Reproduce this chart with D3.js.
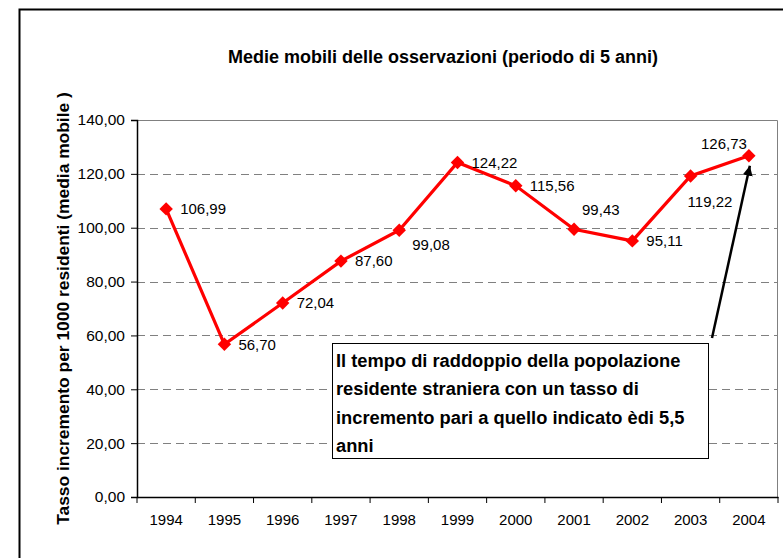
<!DOCTYPE html>
<html>
<head>
<meta charset="utf-8">
<script src="https://cdn.jsdelivr.net/npm/d3@7/dist/d3.min.js"></script>
<style>
  body { margin: 0; background: #fff; }
  svg text { font-family: "Liberation Sans", Arial, sans-serif; }
</style>
</head>
<body>
<div id="chart"></div>
<script>
// moving averages, 5 year period
const years = ["1994", "1995", "1996", "1997", "1998", "1999", "2000", "2001", "2002", "2003", "2004"];
const values = [106.99, 56.70, 72.04, 87.60, 99.08, 124.22, 115.56, 99.43, 95.11, 119.22, 126.73];
const yTicks = [0, 20, 40, 60, 80, 100, 120, 140];
const noteLines = [
  "Il tempo di raddoppio della popolazione",
  "residente straniera con un tasso di",
  "incremento pari a quello indicato èdi 5,5",
  "anni"
];
// where each data label sits relative to its point (as dragged in the original)
const labelPos = ["right", "right", "right", "right", "belowright", "right", "right", "aboveright", "right", "below", "aboveleft"];

const width = 783, height = 558;
const margin = {top: 120, left: 137, right: 5, bottom: 61};

const svg = d3.select("#chart").append("svg")
    .attr("width", width)
    .attr("height", height);

// chart area border (runs off the right and bottom edges)
svg.append("rect")
    .attr("x", 19.5).attr("y", 9.5)
    .attr("width", 800).attr("height", 600)
    .attr("fill", "#fff")
    .attr("stroke", "#000")
    .attr("stroke-width", 2);

const x = d3.scaleBand()
    .domain(years)
    .range([margin.left, width - margin.right])
    .padding(0);

const y = d3.scaleLinear()
    .domain([0, 140])
    .range([height - margin.bottom, margin.top]);

const fmt = d => d.toFixed(2).replace(".", ",");

// gridlines
svg.append("g")
  .selectAll("line")
  .data(yTicks.filter(d => d > 0 && d < 140))
  .enter().append("line")
    .attr("x1", margin.left).attr("x2", width - margin.right)
    .attr("y1", d => Math.round(y(d)) + 0.5).attr("y2", d => Math.round(y(d)) + 0.5)
    .attr("stroke", "#808080")
    .attr("stroke-dasharray", "8,5");

// plot area frame (top & right)
svg.append("path")
    .attr("d", "M" + margin.left + "," + (y(140) + 0.5) + "H" + (width - margin.right - 0.5) + "V" + y(0))
    .attr("fill", "none")
    .attr("stroke", "#808080")
    .attr("stroke-width", 1);

// y axis
const yAxis = svg.append("g")
    .attr("transform", "translate(" + margin.left + ",0)")
    .call(d3.axisLeft(y).tickValues(yTicks).tickFormat(fmt).tickSize(6).tickPadding(6));
yAxis.selectAll("text").style("font-size", "15.5px").attr("fill", "#000");
yAxis.select(".domain").attr("stroke", "#000").attr("stroke-width", 1.5);

// x axis: labels centred in bands, ticks on band edges
const xAxis = svg.append("g")
    .attr("transform", "translate(0," + y(0) + ")")
    .call(d3.axisBottom(x).tickSize(0).tickPadding(17));
xAxis.selectAll("text").style("font-size", "15px").attr("fill", "#000");
xAxis.select(".domain").attr("stroke", "#000").attr("stroke-width", 1.5);
xAxis.selectAll(".xedge")
    .data(years.map(d => x(d)).concat([x(years[years.length - 1]) + x.bandwidth()]))
    .enter().append("line")
    .attr("class", "xedge")
    .attr("x1", d => d).attr("x2", d => d)
    .attr("y1", 0).attr("y2", 6)
    .attr("stroke", "#000");

// the line
const cx = d => x(d) + x.bandwidth() / 2;
const line = d3.line()
    .x((d, i) => cx(years[i]))
    .y(d => y(d));

svg.append("path")
    .datum(values)
    .attr("d", line)
    .attr("fill", "none")
    .attr("stroke", "#ff0000")
    .attr("stroke-width", 3.2);

svg.append("g")
  .selectAll("path")
  .data(values)
  .enter().append("path")
    .attr("transform", (d, i) => "translate(" + cx(years[i]) + "," + y(d) + ")")
    .attr("d", d3.symbol().type(d3.symbolDiamond2).size(115))
    .attr("fill", "#ff0000");

// data labels
const offsets = {
  right: [14, 0, "start"],
  belowright: [13, 15, "start"],
  aboveright: [8, -19, "start"],
  below: [-3, 26, "start"],
  aboveleft: [-2, -12, "end"]
};
svg.append("g")
  .selectAll("text")
  .data(values)
  .enter().append("text")
    .attr("x", (d, i) => cx(years[i]) + offsets[labelPos[i]][0])
    .attr("y", (d, i) => y(d) + offsets[labelPos[i]][1])
    .attr("dy", "0.35em")
    .attr("text-anchor", (d, i) => offsets[labelPos[i]][2])
    .style("font-size", "15px")
    .text(fmt);

// title
svg.append("text")
    .attr("x", 443)
    .attr("y", 63)
    .attr("text-anchor", "middle")
    .style("font-size", "18px")
    .style("font-weight", "bold")
    .text("Medie mobili delle osservazioni (periodo di 5 anni)");

// y axis title
svg.append("text")
    .attr("transform", "translate(69," + (margin.top + y(0)) / 2 + ") rotate(-90)")
    .attr("text-anchor", "middle")
    .style("font-size", "17.4px")
    .style("font-weight", "bold")
    .text("Tasso incremento per 1000 residenti (media mobile )");

// annotation arrow
svg.append("defs").append("marker")
    .attr("id", "head")
    .attr("viewBox", "0 0 10 10")
    .attr("refX", 10).attr("refY", 5)
    .attr("markerWidth", 4).attr("markerHeight", 4)
    .attr("orient", "auto")
  .append("path")
    .attr("d", "M0,0L10,5L0,10z")
    .attr("fill", "#000");

const last = years.length - 1;
svg.append("line")
    .attr("x1", 712).attr("y1", 338)
    .attr("x2", cx(years[last]) + 1).attr("y2", y(values[last]) + 10)
    .attr("stroke", "#000")
    .attr("stroke-width", 2.5)
    .attr("marker-end", "url(#head)");

// annotation box
const note = svg.append("g").attr("transform", "translate(332,343)");
note.append("rect")
    .attr("x", 0.5).attr("y", 0.5)
    .attr("width", 376).attr("height", 115)
    .attr("fill", "#fff")
    .attr("stroke", "#000");
note.selectAll("text")
  .data(noteLines)
  .enter().append("text")
    .attr("x", 4)
    .attr("y", (d, i) => 24 + i * 28.3)
    .style("font-size", "18.3px")
    .style("font-weight", "bold")
    .text(d => d);
</script>
</body>
</html>
